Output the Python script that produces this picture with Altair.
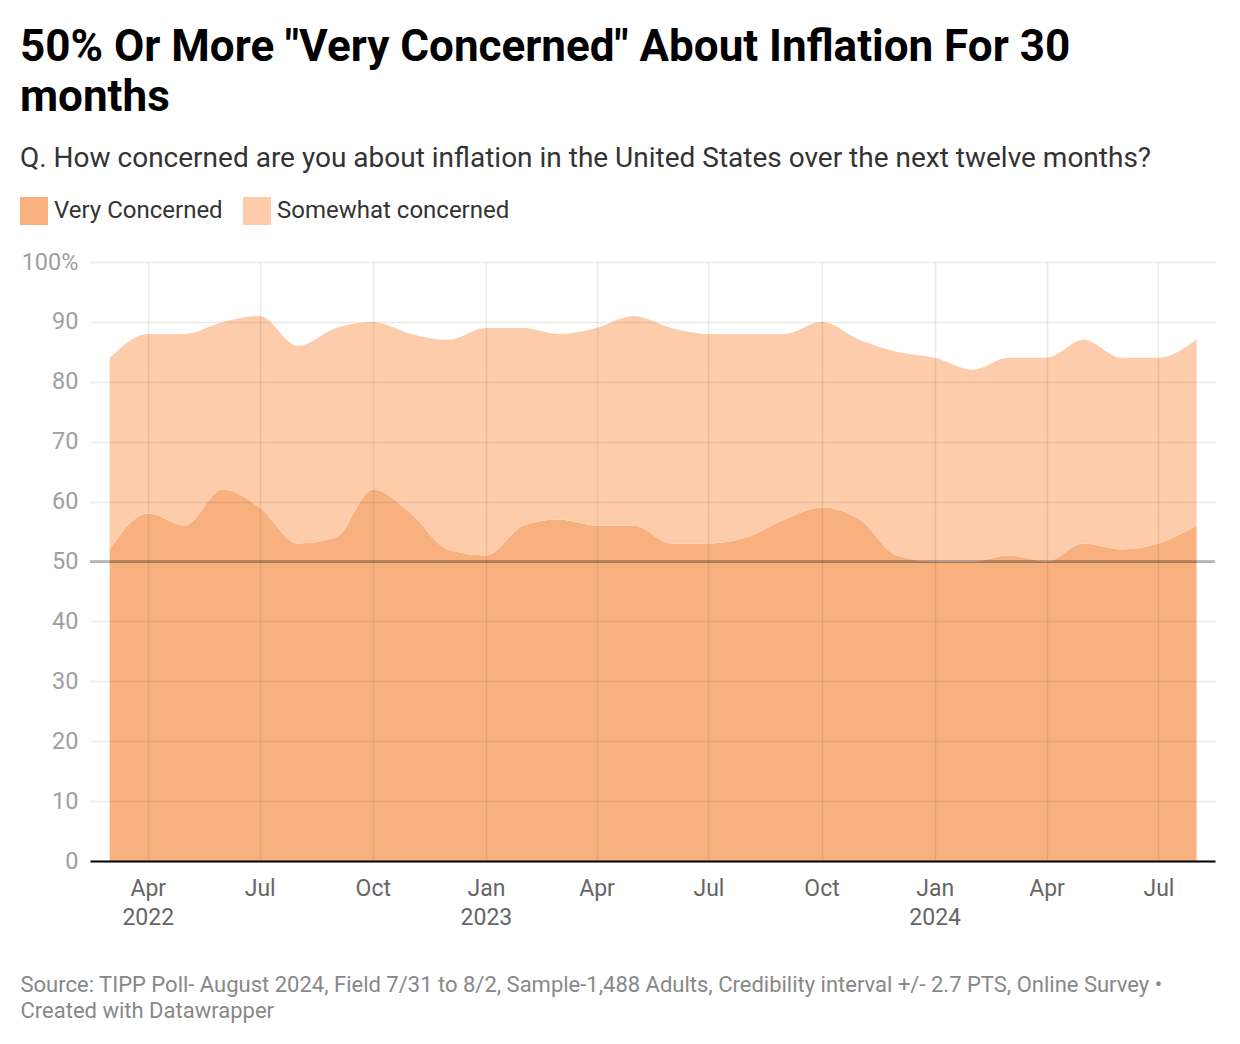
import altair as alt
import pandas as pd

# ---- data ----
months = [
    "2022-03", "2022-04", "2022-05", "2022-06", "2022-07", "2022-08", "2022-09",
    "2022-10", "2022-11", "2022-12", "2023-01", "2023-02", "2023-03", "2023-04",
    "2023-05", "2023-06", "2023-07", "2023-08", "2023-09", "2023-10", "2023-11",
    "2023-12", "2024-01", "2024-02", "2024-03", "2024-04", "2024-05", "2024-06",
    "2024-07", "2024-08",
]
very_concerned = [52, 58, 56, 62, 59, 53, 54, 62, 58, 52, 51, 56, 57, 56, 56,
                  53, 53, 54, 57, 59, 57, 51, 50, 50, 51, 50, 53, 52, 53, 56]
somewhat_concerned = [32, 30, 32, 28, 32, 33, 35, 28, 30, 35, 38, 33, 31, 33, 35,
                      36, 35, 34, 31, 31, 30, 34, 34, 32, 33, 34, 34, 32, 31, 31]
series_names = ["Very Concerned", "Somewhat concerned"]
series_colors = ["#F9B07F", "#FDCDAB"]
threshold = [50]
y_ticks = [0, 10, 20, 30, 40, 50, 60, 70, 80, 90, 100]

rows = []
for m, v, s in zip(months, very_concerned, somewhat_concerned):
    rows.append({"date": m + "-01T00:00:00", "series": series_names[0], "value": v, "ord": 0})
    rows.append({"date": m + "-01T00:00:00", "series": series_names[1], "value": s, "ord": 1})
df = pd.DataFrame(rows)

FONT = "Roboto"

x_ticks = [
    alt.DateTime(year=2022, month=4, date=1), alt.DateTime(year=2022, month=7, date=1),
    alt.DateTime(year=2022, month=10, date=1), alt.DateTime(year=2023, month=1, date=1),
    alt.DateTime(year=2023, month=4, date=1), alt.DateTime(year=2023, month=7, date=1),
    alt.DateTime(year=2023, month=10, date=1), alt.DateTime(year=2024, month=1, date=1),
    alt.DateTime(year=2024, month=4, date=1), alt.DateTime(year=2024, month=7, date=1),
]

x_enc = alt.X(
    "date:T",
    scale=alt.Scale(domain=[alt.DateTime(year=2022, month=2, date=13),
                            alt.DateTime(year=2024, month=8, date=16)]),
    axis=alt.Axis(
        values=x_ticks,
        labelExpr="[timeFormat(datum.value, '%b'), (month(datum.value) == 0 || (year(datum.value) == 2022 && month(datum.value) == 3)) ? timeFormat(datum.value, '%Y') : '']",
        labelFont=FONT, labelFontSize=23, labelColor="#666666",
        labelLineHeight=29, labelPadding=16, labelBaseline="top",
        ticks=False, domain=True, domainColor="#000000", domainWidth=2,
        grid=True, gridColor="#000000", gridOpacity=0.08, gridWidth=1.5,
        zindex=1,
        title=["Source: TIPP Poll- August 2024, Field 7/31 to 8/2, Sample-1,488 Adults, Credibility interval +/- 2.7 PTS, Online Survey \u2022",
               "Created with Datawrapper"],
        titleFont=FONT, titleFontSize=22, titleFontWeight="normal", titleColor="#888888",
        titleAnchor="start", titleAlign="left", titleBaseline="top",
        titleX=-70, titleY=113, titleLineHeight=26,
    ),
)

area = alt.Chart(df).mark_area(interpolate="monotone").encode(
    x=x_enc,
    y=alt.Y(
        "value:Q", stack="zero",
        scale=alt.Scale(domain=[0, 100], nice=False),
        axis=alt.Axis(
            values=y_ticks,
            labelExpr="datum.value == 100 ? '100%' : datum.label",
            labelFont=FONT, labelFontSize=23.5, labelColor="#A0A0A0",
            labelPadding=12, ticks=False, domain=False,
            grid=True, gridColor="#000000", gridOpacity=0.08, gridWidth=1.5,
            zindex=1, title=None,
        ),
    ),
    color=alt.Color(
        "series:N",
        scale=alt.Scale(domain=series_names, range=series_colors),
        legend=alt.Legend(
            orient="none", legendX=-70, legendY=-65, direction="horizontal",
            title=None, symbolType="square", symbolSize=784, symbolStrokeWidth=0,
            symbolOpacity=1, labelFont=FONT, labelFontSize=24, labelColor="#333333",
            labelOffset=6, columnPadding=20, labelLimit=400,
        ),
    ),
    order=alt.Order("ord:Q"),
)

rule = alt.Chart(pd.DataFrame({"y": threshold})).mark_rule(
    color="#000000", opacity=0.25, strokeWidth=3
).encode(y="y:Q")

chart = alt.layer(area, rule).properties(
    width=1125,
    height=599,
    autosize=alt.AutoSizeParams(type="none"),
    padding={"left": 82, "top": 254, "right": 17, "bottom": 175},
    title=alt.TitleParams(
        text=['50% Or More "Very Concerned" About Inflation For 30', "months"],
        subtitle="Q. How concerned are you about inflation in the United States over the next twelve months?",
        anchor="start", frame="group", dx=-70, offset=24,
        font=FONT, fontSize=44, fontWeight="bold", color="#000000", lineHeight=50,
        subtitleFont=FONT, subtitleFontSize=28, subtitleColor="#333333",
        subtitlePadding=25,
    ),
).configure_view(stroke=None)

chart.save("out.html", embed_options={"renderer": "svg", "actions": False})
